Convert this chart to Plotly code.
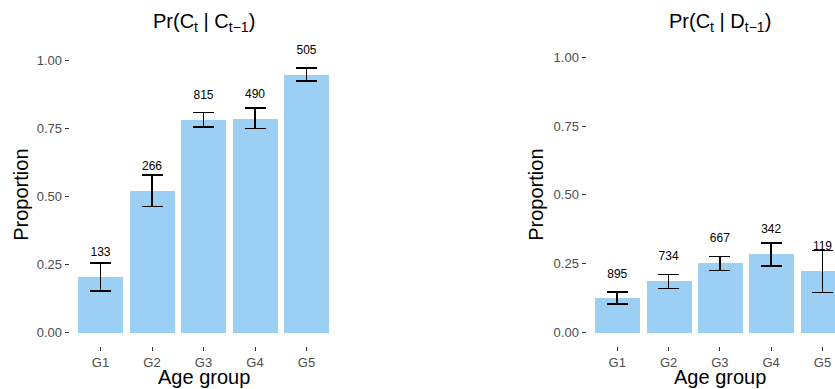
import plotly.graph_objects as go

# Age groups shared by both panels
groups = ["G1", "G2", "G3", "G4", "G5"]
positions = [1, 2, 3, 4, 5]

# Panel 1: Pr(C_t | C_{t-1})
cc_prop = [0.206, 0.522, 0.783, 0.787, 0.949]
cc_lower = [0.152, 0.463, 0.756, 0.750, 0.924]
cc_upper = [0.255, 0.580, 0.809, 0.826, 0.972]
cc_n = [133, 266, 815, 490, 505]

# Panel 2: Pr(C_t | D_{t-1})
cd_prop = [0.125, 0.187, 0.253, 0.286, 0.224]
cd_lower = [0.102, 0.159, 0.225, 0.242, 0.145]
cd_upper = [0.147, 0.210, 0.276, 0.325, 0.297]
cd_n = [895, 734, 667, 342, 119]

y_ticks = [0, 0.25, 0.5, 0.75, 1.0]
label_offset = 0.085

BAR_COLOR = "#9BCFF3"
FONT = "Liberation Sans, Arial, Helvetica, sans-serif"
W, H = 835, 389

fig = go.Figure()


def add_panel(prop, lower, upper, n, xa, ya):
    fig.add_trace(go.Bar(
        x=positions, y=prop, width=0.875,
        marker=dict(color=BAR_COLOR, line=dict(width=0)),
        error_y=dict(
            type="data", symmetric=False,
            array=[u - p for u, p in zip(upper, prop)],
            arrayminus=[p - l for p, l in zip(prop, lower)],
            color="black", thickness=1.7, width=10.5,
        ),
        xaxis=xa, yaxis=ya, showlegend=False, hoverinfo="skip",
    ))
    fig.add_trace(go.Scatter(
        x=positions, y=[p + label_offset for p in prop],
        text=[str(v) for v in n], mode="text",
        textposition="middle center",
        textfont=dict(size=12, color="black", family=FONT),
        xaxis=xa, yaxis=ya, showlegend=False, hoverinfo="skip",
        cliponaxis=False,
    ))


add_panel(cc_prop, cc_lower, cc_upper, cc_n, "x", "y")
add_panel(cd_prop, cd_lower, cd_upper, cd_n, "x2", "y2")

# panel geometry in pixels
top_px, bottom_px = 43.5, 346.0
ydom = [1 - bottom_px / H, 1 - top_px / H]
left_dom = [69.6 / W, 337.4 / W]
right_dom = [586.5 / W, 1.0]
right_span = (835 - 586.5) / 51.3

axis_common = dict(
    showgrid=False, zeroline=False, showline=False,
    ticks="outside", ticklen=4, tickwidth=1, tickcolor="#333333",
    tickfont=dict(size=13, color="#4D4D4D", family=FONT),
)

fig.update_layout(
    width=W, height=H,
    margin=dict(l=0, r=0, t=0, b=0),
    paper_bgcolor="white", plot_bgcolor="white",
    bargap=0,
    xaxis=dict(domain=left_dom, range=[0.4, 5.6], tickvals=positions,
               ticktext=groups, anchor="y", **axis_common),
    yaxis=dict(domain=ydom, range=[-0.0506, 1.063], tickvals=y_ticks,
               tickformat=".2f", anchor="x", **axis_common),
    xaxis2=dict(domain=right_dom, range=[0.4, 0.4 + right_span],
                tickvals=positions, ticktext=groups, anchor="y2",
                **axis_common),
    yaxis2=dict(domain=ydom, range=[-0.05, 1.05], tickvals=y_ticks,
                tickformat=".2f", anchor="x2", **axis_common),
)

title_font = dict(size=20, color="black", family=FONT)
titles = [
    ("x", "Pr(C<sub>t</sub> | C<sub>t\u22121</sub>)"),
    ("x2", "Pr(C<sub>t</sub> | D<sub>t\u22121</sub>)"),
]
for xref, txt in titles:
    fig.add_annotation(text=txt, xref=xref, x=3, yref="paper",
                       y=1 - 22 / H, yanchor="middle", showarrow=False,
                       font=title_font)
    fig.add_annotation(text="Age group", xref=xref, x=3, yref="paper",
                       y=1 - 377 / H, yanchor="middle", showarrow=False,
                       font=title_font)

mid_y = 1 - (top_px + bottom_px) / 2 / H
for xpx in (21, 536):
    fig.add_annotation(text="Proportion", xref="paper", x=xpx / W,
                       xanchor="center", yref="paper", y=mid_y,
                       yanchor="middle", textangle=-90, showarrow=False,
                       font=title_font)

fig.write_html("out.html")
